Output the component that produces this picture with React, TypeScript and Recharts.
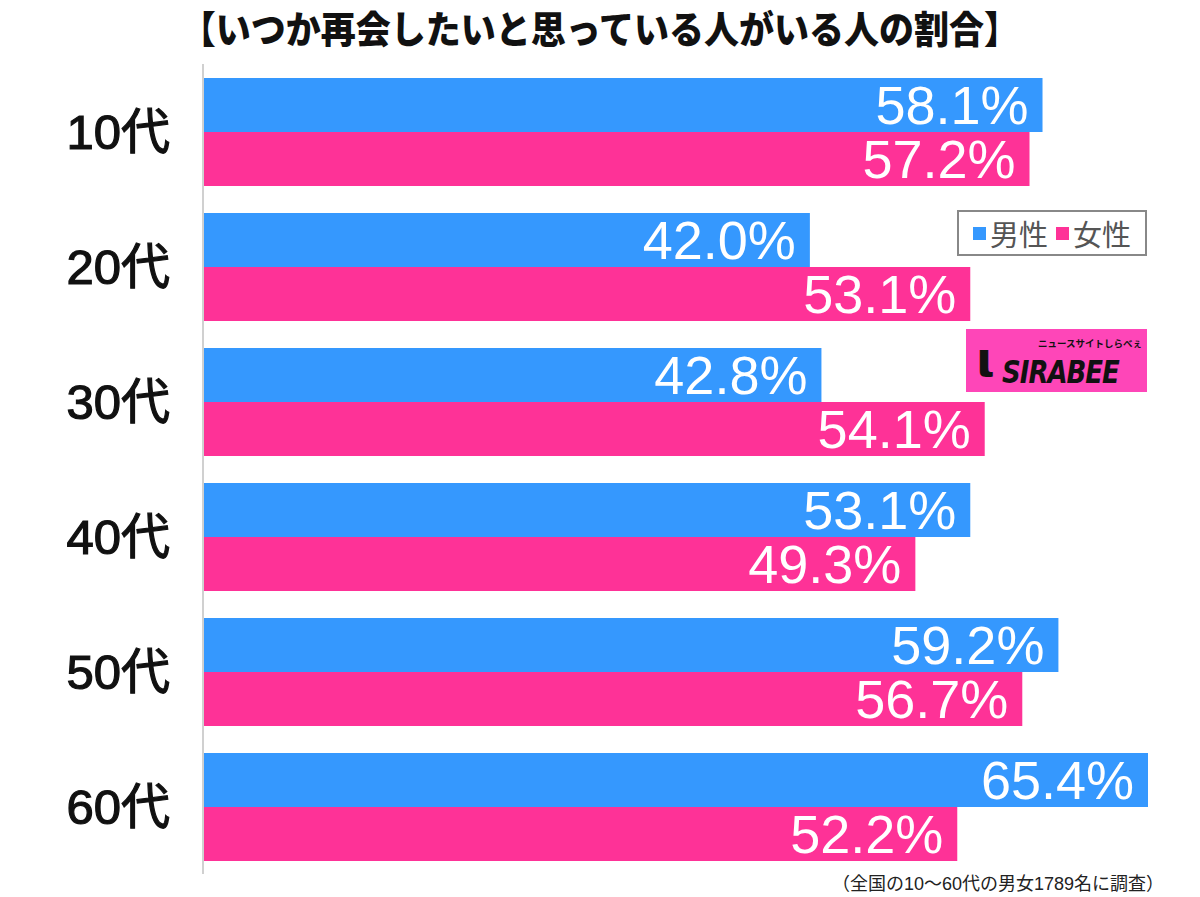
import * as React from "react"
import { BarChart, Bar, XAxis, YAxis, LabelList } from "recharts"

const ageGroups = ["10代", "20代", "30代", "40代", "50代", "60代"]
const maleValues = [58.1, 42.0, 42.8, 53.1, 59.2, 65.4]
const femaleValues = [57.2, 53.1, 54.1, 49.3, 56.7, 52.2]

const data = ageGroups.map((age, i) => ({
  age,
  male: maleValues[i],
  female: femaleValues[i],
}))

const BLUE = "#3598fe"
const PINK = "#fe3297"
const FONT = "'Liberation Sans', 'Noto Sans CJK JP', sans-serif"
const JP = "'Noto Sans CJK JP', sans-serif"

const AgeTick = ({ y, payload }: any) => (
  <text
    x={170}
    y={y}
    textAnchor="end"
    dominantBaseline="central"
    fontSize={49}
    fill="#111"
    stroke="#111"
    strokeWidth={1.2}
    fontFamily={FONT}
  >
    {payload.value}
  </text>
)

const fmt = (v: any) => `${Number(v).toFixed(1)}%`

export default function App() {
  return (
    <div style={{ position: "relative", width: 1200, height: 897, background: "#fff", fontFamily: FONT }}>
      <style>{"body{margin:0}"}</style>
      <div
        style={{
          position: "absolute",
          top: 0,
          left: 0,
          width: 1200,
          textAlign: "center",
          fontSize: 35,
          fontWeight: 900,
          color: "#111",
          fontFamily: JP,
          lineHeight: "50px",
          transform: "scaleY(1.08)",
          transformOrigin: "center top",
        }}
      >
        【いつか再会したいと思っている人がいる人の割合】
      </div>
      <BarChart
        width={1200}
        height={897}
        data={data}
        layout="vertical"
        margin={{ top: 64, right: 52, bottom: 23, left: 0 }}
        barCategoryGap={14}
        barGap={0}
      >
        <XAxis type="number" domain={[0, 65.4]} hide />
        <YAxis
          type="category"
          dataKey="age"
          width={203}
          tickLine={false}
          axisLine={{ stroke: "#d0d0d0", strokeWidth: 2 }}
          tick={<AgeTick />}
        />
        <Bar dataKey="male" fill={BLUE} isAnimationActive={false}>
          <LabelList
            dataKey="male"
            position="insideRight"
            offset={14}
            formatter={fmt}
            fill="#fff"
            fontSize={54}
            fontFamily={FONT}
          />
        </Bar>
        <Bar dataKey="female" fill={PINK} isAnimationActive={false}>
          <LabelList
            dataKey="female"
            position="insideRight"
            offset={14}
            formatter={fmt}
            fill="#fff"
            fontSize={54}
            fontFamily={FONT}
          />
        </Bar>
      </BarChart>
      <div
        style={{
          position: "absolute",
          left: 957,
          top: 210,
          width: 186,
          height: 42,
          border: "2px solid #888",
          display: "flex",
          alignItems: "center",
          justifyContent: "center",
          fontSize: 29,
          color: "#555",
          background: "#fff",
          fontFamily: JP,
        }}
      >
        <span style={{ display: "inline-block", width: 13, height: 13, background: BLUE, marginRight: 4 }} />
        男性
        <span style={{ display: "inline-block", width: 13, height: 13, background: PINK, marginLeft: 8, marginRight: 4 }} />
        女性
      </div>
      <div
        style={{
          position: "absolute",
          left: 966,
          top: 329,
          width: 181,
          height: 63,
          background: "#fe46b8",
          color: "#111",
          overflow: "hidden",
        }}
      >
        <div style={{ position: "absolute", left: 10, top: 2, fontSize: 48, fontWeight: 900, lineHeight: "56px", fontFamily: "'DejaVu Sans', sans-serif" }}>ι</div>
        <div style={{ position: "absolute", left: 72, top: 9, fontSize: 9.5, fontWeight: 700, lineHeight: "11px", fontFamily: JP, whiteSpace: "nowrap" }}>
          ニュースサイトしらべぇ
        </div>
        <div
          style={{
            position: "absolute",
            left: 36,
            top: 24,
            fontSize: 26,
            lineHeight: "30px",
            fontWeight: 900,
            fontStyle: "italic",
            letterSpacing: -1,
            fontFamily: "'DejaVu Sans', sans-serif",
            transform: "scaleY(1.25)",
            transformOrigin: "left top",
          }}
        >
          SIRABEE
        </div>
      </div>
      <div
        style={{
          position: "absolute",
          right: 36,
          top: 873,
          fontSize: 18,
          lineHeight: "22px",
          color: "#222",
          fontFamily: FONT,
        }}
      >
        （全国の10〜60代の男女1789名に調査）
      </div>
    </div>
  )
}
